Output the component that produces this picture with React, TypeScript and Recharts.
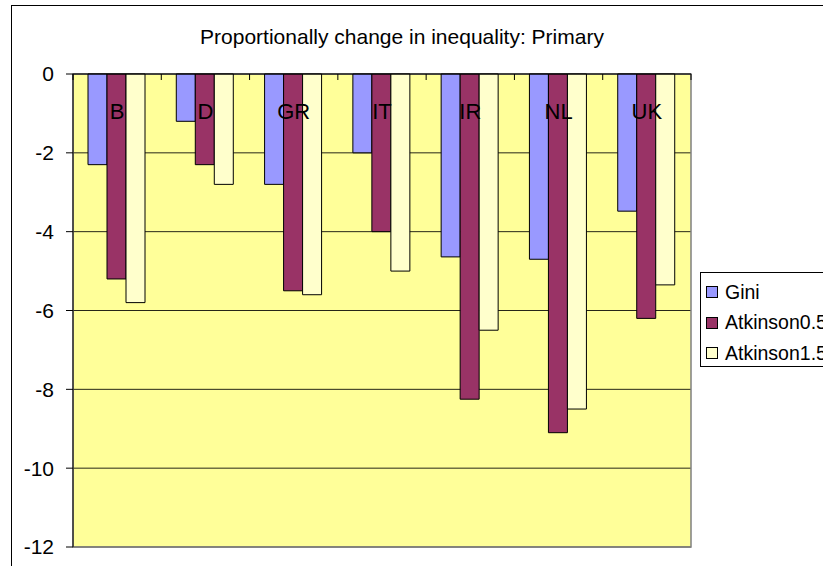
import React from "react"
import { BarChart, Bar, XAxis, YAxis, CartesianGrid, ReferenceArea } from "recharts"

const countries = ["B", "D", "GR", "IT", "IR", "NL", "UK"]
const gini = [-2.3, -1.2, -2.8, -2.0, -4.64, -4.7, -3.48]
const atkinson05 = [-5.2, -2.3, -5.5, -4.0, -8.25, -9.1, -6.2]
const atkinson15 = [-5.8, -2.8, -5.6, -5.0, -6.5, -8.5, -5.35]
const yTicks = [0, -2, -4, -6, -8, -10, -12]

const series = [
  { key: "Gini", color: "#9999FF" },
  { key: "Atkinson0.5", color: "#993366" },
  { key: "Atkinson1.5", color: "#FFFFCC" },
]

const data = countries.map((name, i) => ({
  name,
  Gini: gini[i],
  "Atkinson0.5": atkinson05[i],
  "Atkinson1.5": atkinson15[i],
}))

const FONT = "'Liberation Sans', Arial, sans-serif"
const PLOT_LEFT = 73
const PLOT_RIGHT = 691
const BAND = (PLOT_RIGHT - PLOT_LEFT) / countries.length

const CategoryTick = (props: any) => {
  const { x, y, payload, index } = props
  const bx = x + BAND / 2
  return (
    <g>
      {index === 0 && <line x1={x - BAND / 2} y1={y} x2={x - BAND / 2} y2={y + 6} stroke="#000" />}
      <line x1={bx} y1={y} x2={bx} y2={y + 6} stroke="#000" />
      <text x={x} y={y + 39} textAnchor="middle" dominantBaseline="middle" fontSize={22} fontFamily={FONT} fill="#000">
        {payload.value}
      </text>
    </g>
  )
}

// legend drawn as plain html next to the plot, Excel style box
const LegendBox = () => (
  <div
    style={{
      position: "absolute",
      left: 700,
      top: 272,
      border: "1px solid #000",
      background: "#fff",
      width: 140,
      height: 95,
      boxSizing: "border-box",
      paddingTop: 4,
      paddingLeft: 5,
    }}
  >
    {series.map((s) => (
      <div key={s.key} style={{ display: "flex", alignItems: "center", height: 30.5, whiteSpace: "nowrap" }}>
        <span
          style={{
            display: "inline-block",
            width: 10,
            height: 10,
            background: s.color,
            border: "1px solid #000",
            marginRight: 7,
          }}
        />
        <span style={{ fontSize: 19.5, fontFamily: FONT, color: "#000" }}>{s.key}</span>
      </div>
    ))}
  </div>
)

export default function App() {
  return (
    <div style={{ position: "absolute", left: 0, top: 0, width: 823, height: 566, overflow: "hidden", background: "#fff" }}>
      <div
        style={{
          position: "absolute",
          left: 11,
          top: 5,
          width: 900,
          height: 700,
          borderLeft: "1.5px solid #000",
          borderTop: "1.5px solid #000",
        }}
      />
      <div
        style={{
          position: "absolute",
          left: 0,
          width: 804,
          top: 25,
          textAlign: "center",
          fontSize: 21,
          fontFamily: FONT,
          color: "#000",
        }}
      >
        Proportionally change in inequality: Primary
      </div>
      <div style={{ position: "absolute", left: 0, top: 0 }}>
        <BarChart
          width={823}
          height={566}
          data={data}
          margin={{ top: 73, right: 823 - PLOT_RIGHT, bottom: 19, left: 0 }}
          barCategoryGap="17%"
          barGap={0}
        >
          <CartesianGrid vertical={false} fill="#FFFF99" stroke="#000" strokeOpacity={0.85} />
          <ReferenceArea y1={-12} y2={0} fill="none" stroke="#808080" strokeWidth={1.5} />
          {series.map((s) => (
            <Bar key={s.key} dataKey={s.key} fill={s.color} stroke="#000" strokeWidth={1} isAnimationActive={false} />
          ))}
          <XAxis
            dataKey="name"
            orientation="top"
            height={1}
            axisLine={{ stroke: "#000" }}
            tickLine={false}
            tickSize={0}
            tickMargin={0}
            tick={<CategoryTick />}
            interval={0}
          />
          <YAxis
            width={PLOT_LEFT}
            domain={[-12, 0]}
            ticks={yTicks}
            interval={0}
            axisLine={{ stroke: "#000" }}
            tickLine={{ stroke: "#000" }}
            tickSize={7}
            tickMargin={12}
            tick={{ fontSize: 21, fontFamily: FONT, fill: "#000" }}
          />
        </BarChart>
      </div>
      <LegendBox />
    </div>
  )
}
